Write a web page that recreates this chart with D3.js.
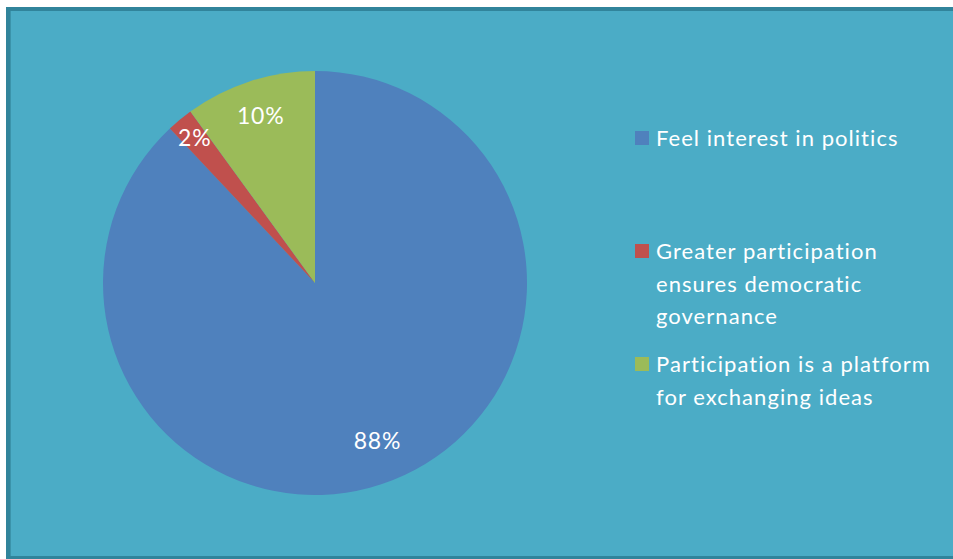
<!DOCTYPE html>
<html>
<head>
<meta charset="utf-8">
<script src="https://cdn.jsdelivr.net/npm/d3@7/dist/d3.min.js"></script>
<style>
  html, body { margin: 0; padding: 0; background: #ffffff; }
  svg { display: block; }
  text { font-family: Lato, "Open Sans", sans-serif; fill: #ffffff; }
</style>
</head>
<body>
<svg id="chart" width="953" height="559"></svg>
<script>
// Survey responses: reasons for taking part in politics
const categories = [
  "Feel interest in politics",
  "Greater participation ensures democratic governance",
  "Participation is a platform for exchanging ideas"
];
const legendLines = [
  ["Feel interest in politics"],
  ["Greater participation", "ensures democratic", "governance"],
  ["Participation is a platform", "for exchanging ideas"]
];
const values = [88, 2, 10];
const valueLabels = ["88%", "2%", "10%"];
const colors = ["#4F81BD", "#C0504D", "#9BBB59"];

const svg = d3.select("#chart");

// Chart area with a darker frame
svg.append("rect")
  .attr("x", 8).attr("y", 9)
  .attr("width", 960).attr("height", 549)
  .attr("fill", "#4BACC6")
  .attr("stroke", "#31849B")
  .attr("stroke-width", 4);
svg.append("line")
  .attr("x1", 10.5).attr("x2", 10.5)
  .attr("y1", 11).attr("y2", 556)
  .attr("stroke", "#3B93AA").attr("stroke-width", 1);

// Pie, starting at twelve o'clock and running clockwise
const cx = 315, cy = 283, r = 212;
const pie = d3.pie().sort(null).value(d => d)
  .startAngle(0).endAngle(2 * Math.PI);
const arcs = pie(values);
const arc = d3.arc().innerRadius(0).outerRadius(r);

// how far out each value label sits, as a share of the radius
const labelRadius = [0.8, 0.89, 0.83];

const g = svg.append("g").attr("transform", `translate(${cx},${cy})`);
g.selectAll("path.slice")
  .data(arcs)
  .join("path")
  .attr("class", "slice")
  .attr("d", arc)
  .attr("fill", (d, i) => colors[i]);

g.selectAll("text.value")
  .data(arcs)
  .join("text")
  .attr("class", "value")
  .attr("transform", (d, i) => {
    const lr = r * labelRadius[i];
    const [x, y] = d3.arc().innerRadius(lr).outerRadius(lr).centroid(d);
    return `translate(${x},${y})`;
  })
  .attr("text-anchor", "middle")
  .attr("dy", "0.35em")
  .attr("font-size", 23)
  .attr("letter-spacing", 0.8)
  .text((d, i) => valueLabels[i]);

// Legend
const legendX = 635;
const legendTops = [131, 244, 357];
const lineStep = 32.5;
const legend = svg.append("g");
legendLines.forEach((lines, i) => {
  legend.append("rect")
    .attr("x", legendX).attr("y", legendTops[i])
    .attr("width", 14).attr("height", 14)
    .attr("fill", colors[i]);
  const t = legend.append("text")
    .attr("x", legendX + 21)
    .attr("y", legendTops[i] + 15)
    .attr("font-size", 22)
    .attr("letter-spacing", 1.05);
  lines.forEach((line, j) => {
    t.append("tspan")
      .attr("x", legendX + 21)
      .attr("dy", j === 0 ? 0 : lineStep)
      .text(line);
  });
});
</script>
</body>
</html>
